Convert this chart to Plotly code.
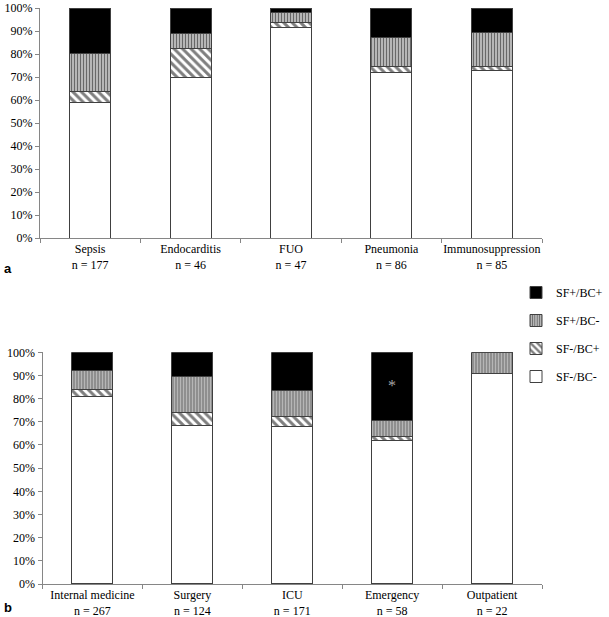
import plotly.graph_objects as go
from plotly.subplots import make_subplots

# ---- data (percentages) ----
cats_a = ["Sepsis<br>n = 177", "Endocarditis<br>n = 46", "FUO<br>n = 47",
          "Pneumonia<br>n = 86", "Immunosuppression<br>n = 85"]
a_sfneg_bcneg = [58.8, 69.6, 91.5, 72.1, 72.9]
a_sfneg_bcpos = [5.1, 13.0, 2.1, 2.3, 1.5]
a_sfpos_bcneg = [16.4, 6.5, 4.3, 12.8, 15.0]
a_sfpos_bcpos = [19.7, 10.9, 2.1, 12.8, 10.6]

cats_b = ["Internal medicine<br>n = 267", "Surgery<br>n = 124", "ICU<br>n = 171",
          "Emergency<br>n = 58", "Outpatient<br>n = 22"]
b_sfneg_bcneg = [80.9, 68.5, 67.8, 62.1, 90.9]
b_sfneg_bcpos = [3.0, 5.7, 4.7, 1.7, 0.0]
b_sfpos_bcneg = [8.4, 15.3, 11.1, 6.9, 9.1]
b_sfpos_bcpos = [7.7, 10.5, 16.4, 29.3, 0.0]

yticks = [0, 10, 20, 30, 40, 50, 60, 70, 80, 90, 100]
ytick_labels = [f"{v}%" for v in yticks]

series_names = ["SF-/BC-", "SF-/BC+", "SF+/BC-", "SF+/BC+"]
legend_ranks = {"SF+/BC+": 1, "SF+/BC-": 2, "SF-/BC+": 3, "SF-/BC-": 4}

W, H = 609, 617
ML, MR, MT, MB = 40, 67, 8, 33
PW, PH = W - ML - MR, H - MT - MB


def px_x(x):
    return (x - ML) / PW


def px_y(y):
    return (H - MB - y) / PH


styles = {
    "SF-/BC-": dict(color="white"),
    "SF-/BC+": dict(color="white", pattern=dict(shape="\\", fgcolor="black", bgcolor="white",
                                                   size=6, solidity=0.5, fillmode="overlay")),
    "SF+/BC-": dict(color="white", pattern=dict(shape="|", fgcolor="black", bgcolor="#d0d0d0",
                                                   size=3, solidity=0.5, fillmode="overlay")),
    "SF+/BC+": dict(color="black"),
}

fig = make_subplots(rows=2, cols=1, vertical_spacing=0.05)

serif = "Liberation Serif, Times New Roman, serif"
outline = "#404040"

for row, cats, vals in [(1, cats_a, [a_sfneg_bcneg, a_sfneg_bcpos, a_sfpos_bcneg, a_sfpos_bcpos]),
                        (2, cats_b, [b_sfneg_bcneg, b_sfneg_bcpos, b_sfpos_bcneg, b_sfpos_bcpos])]:
    for name, v in zip(series_names, vals):
        fig.add_trace(go.Bar(
            x=cats, y=v, name=name, legendgroup=name, showlegend=(row == 1),
            legendrank=legend_ranks[name],
            width=0.41,
            marker=dict(line=dict(color=outline, width=1), **styles[name]),
            hoverinfo="skip",
        ), row=row, col=1)

axis_color = "#868686"
for row in (1, 2):
    fig.update_xaxes(row=row, col=1, type="category", showline=True, linecolor=axis_color,
                     linewidth=1, ticks="outside", tickson="boundaries", ticklen=4,
                     tickcolor=axis_color, showgrid=False, zeroline=False, tickangle=0,
                     automargin=False, ticklabeloverflow="allow",
                     tickfont=dict(family=serif, size=12, color="black"))
    fig.update_yaxes(row=row, col=1, range=[0, 100], tickvals=yticks, ticktext=ytick_labels,
                     showline=True, linecolor=axis_color, linewidth=1, ticks="outside",
                     ticklen=4, tickcolor=axis_color, showgrid=False, zeroline=False,
                     automargin=False, ticklabeloverflow="allow",
                     tickfont=dict(family=serif, size=12, color="black"))

fig.update_layout(
    width=W, height=H, barmode="stack",
    margin=dict(l=ML, r=MR, t=MT, b=MB, autoexpand=False),
    plot_bgcolor="white", paper_bgcolor="white",
    xaxis=dict(domain=[0, 1]),
    yaxis=dict(domain=[px_y(238), 1]),
    xaxis2=dict(domain=[px_x(42.5), 1]),
    yaxis2=dict(domain=[0, px_y(352.3)]),
    legend=dict(x=px_x(516), y=px_y(278), xanchor="left", yanchor="top",
                traceorder="grouped", tracegroupgap=9,
                font=dict(family=serif, size=12, color="black"),
                itemwidth=30, bgcolor="rgba(0,0,0,0)"),
    showlegend=True,
)

fig.add_annotation(x=px_x(2), y=px_y(268), xref="paper", yref="paper", text="<b>a</b>",
                   xanchor="left", showarrow=False,
                   font=dict(family="Liberation Sans, Arial, sans-serif", size=13, color="black"))
fig.add_annotation(x=px_x(2), y=px_y(617), xref="paper", yref="paper", text="<b>b</b>",
                   xanchor="left", yanchor="bottom", showarrow=False,
                   font=dict(family="Liberation Sans, Arial, sans-serif", size=13, color="black"))
fig.add_annotation(x=cats_b[3], y=85.5, xref="x2", yref="y2", text="*", showarrow=False,
                   font=dict(family=serif, size=16, color="#a6a6a6"))

fig.write_html("out.html", config={"displayModeBar": False},
               post_script="document.body.style.margin='0px';document.body.style.overflow='hidden';")
